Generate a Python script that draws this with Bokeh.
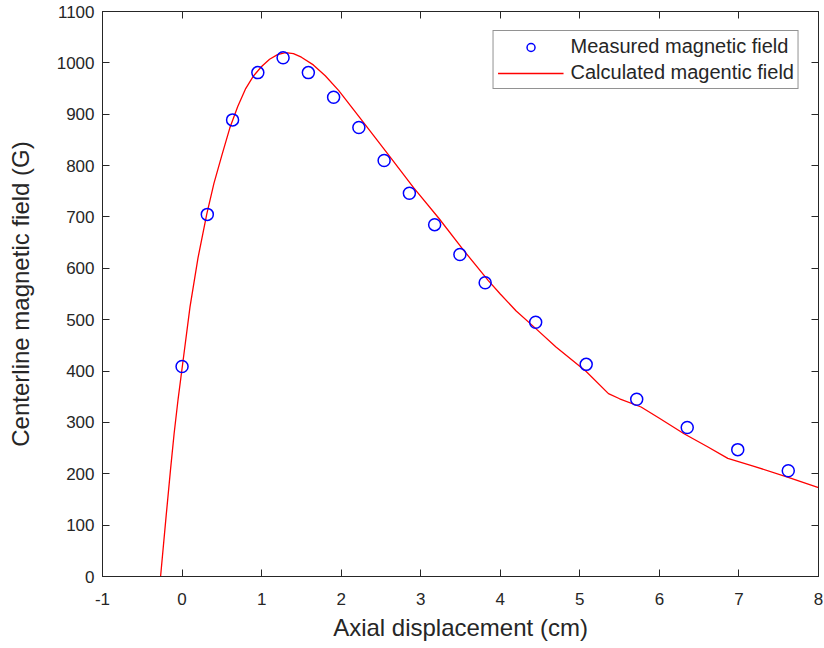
from bokeh.plotting import figure
from bokeh.models import LinearAxis, FixedTicker, Legend, LegendItem, Range1d
from bokeh.embed import file_html
from bokeh.resources import INLINE

# Measured points (cm, G)
meas_x = [0.0, 0.3175, 0.635, 0.9525, 1.27, 1.5875, 1.905, 2.2225, 2.54, 2.8575,
          3.175, 3.4925, 3.81, 4.445, 5.08, 5.715, 6.35, 6.985, 7.62]
meas_y = [409, 705, 889, 981, 1010, 981, 933, 874, 810, 746,
          685, 627, 572, 495, 413, 345, 290, 247, 206]

# Calculated curve (cm, G)
calc_x = [-0.27, -0.2, -0.145, -0.1, -0.05, 0.0, 0.1, 0.2, 0.31, 0.4, 0.5, 0.6,
          0.7, 0.8, 0.9, 1.0, 1.1, 1.2, 1.3, 1.4, 1.5, 1.65, 1.8, 1.97, 2.28,
          2.6, 2.91, 3.23, 3.54, 3.85, 4.0, 4.2, 4.43, 4.7, 5.08, 5.36, 5.5,
          5.77, 6.0, 6.31, 6.6, 6.86, 7.2, 7.62, 8.0]
calc_y = [0, 118, 208, 278, 345, 405, 525, 620, 705, 765, 820, 873,
          915, 950, 975, 993, 1007, 1016, 1020, 1018, 1011, 996, 975, 946, 884,
          820, 757, 697, 635, 576, 550, 517, 485, 447, 399, 356, 346,
          330, 308, 278, 253, 230, 214, 193, 173]

x_ticks = [-1, 0, 1, 2, 3, 4, 5, 6, 7, 8]
y_ticks = [0, 100, 200, 300, 400, 500, 600, 700, 800, 900, 1000, 1100]

FONT = "Liberation Sans"
AX = "#262626"

p = figure(width=824, height=648, output_backend="svg", toolbar_location=None,
           x_range=Range1d(-1, 8), y_range=Range1d(0, 1100),
           min_border_left=102, min_border_right=6, min_border_top=11,
           min_border_bottom=72, background_fill_color="white",
           border_fill_color="white")
p.grid.visible = False
p.outline_line_color = AX
p.outline_line_width = 1

def style(ax, ticks, show_labels=True):
    ax.ticker = FixedTicker(ticks=ticks)
    ax.major_tick_in = 7
    ax.major_tick_out = 0
    ax.minor_tick_line_color = None
    ax.axis_line_color = AX
    ax.major_tick_line_color = AX
    ax.major_label_text_color = AX
    ax.major_label_text_font = FONT
    ax.axis_label_text_font = FONT
    ax.axis_label_text_font_style = "normal"
    ax.axis_label_text_color = AX
    ax.axis_label_text_font_size = "24px"
    if show_labels:
        ax.major_label_text_font_size = "17px"
    else:
        ax.major_label_overrides = {t: "" for t in ticks}
        ax.major_label_text_font_size = "1px"
        ax.major_label_standoff = 0

style(p.xaxis[0], x_ticks)
style(p.yaxis[0], y_ticks)
p.xaxis[0].major_label_overrides = {-1: "-1"}
p.xaxis[0].axis_label = "Axial displacement (cm)"
p.yaxis[0].axis_label = "Centerline magnetic field (G)"
p.xaxis[0].major_label_standoff = 16
p.xaxis[0].axis_label_standoff = 6
p.yaxis[0].major_label_standoff = 8
p.yaxis[0].axis_label_standoff = 20

top = LinearAxis()
style(top, x_ticks, show_labels=False)
p.add_layout(top, "above")
right = LinearAxis()
style(right, y_ticks, show_labels=False)
p.add_layout(right, "right")

line = p.line(calc_x, calc_y, line_color="red", line_width=1.3)
pts = p.scatter(meas_x, meas_y, marker="circle", size=12, fill_color=None,
                line_color="blue", line_width=1.5)

legend = Legend(items=[
    LegendItem(label="Measured magnetic field", renderers=[pts]),
    LegendItem(label="Calculated magentic field", renderers=[line]),
], location="top_right")
legend.margin = 19
legend.padding = 4
legend.spacing = 3
legend.glyph_width = 66
legend.glyph_height = 20
legend.label_height = 20
legend.label_standoff = 7
legend.label_text_font = FONT
legend.label_text_font_size = "20px"
legend.label_text_color = AX
legend.border_line_color = AX
legend.border_line_width = 1
legend.background_fill_color = "white"
legend.background_fill_alpha = 1
p.add_layout(legend)

open("out.html", "w").write(file_html(p, INLINE))
